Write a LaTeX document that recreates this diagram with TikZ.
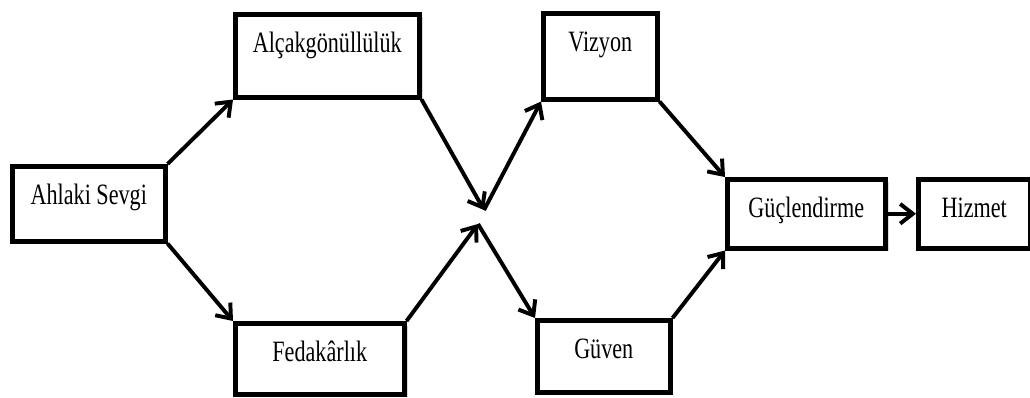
\documentclass[tikz,border=0pt]{standalone}
\usepackage{fontspec}
\setmainfont{Liberation Serif}[FakeStretch=0.75]
\usetikzlibrary{arrows.meta,shadows}
\begin{document}
\begin{tikzpicture}[x=0.025cm,y=-0.025cm,
  box/.style={draw, line width=3.2pt, fill=white, anchor=north west,
    inner xsep=0pt, inner ysep=0pt, text height=0.95cm,
    font=\fontsize{21}{25}\selectfont,
    drop shadow={shadow xshift=0.08cm, shadow yshift=-0.08cm, opacity=0.3}},
  arr/.style={line width=2.8pt, -{Straight Barb[length=9pt,width=14pt]}}]
  \useasboundingbox (0,0) rectangle (1030,397);
  \node[box, minimum width=3.825cm, text depth=0.925cm] (sevgi) at (10,164) {Ahlaki Sevgi};
  \node[box, minimum width=4.6cm, text depth=1.125cm] (alcak) at (233,12) {Alçakgönüllülük};
  \node[box, minimum width=4.225cm, text depth=0.825cm] (fedakar) at (233,321) {Fedakârlık};
  \node[box, minimum width=2.85cm, text depth=1.2cm] (vizyon) at (541,11) {Vizyon};
  \node[box, minimum width=3.325cm, text depth=0.85cm] (guven) at (535,318) {Güven};
  \node[box, minimum width=3.95cm, text depth=0.775cm] (guclen) at (725,177) {Güçlendirme};
  \node[box, minimum width=2.8cm, text depth=0.775cm] (hizmet) at (916,177) {Hizmet};
  \coordinate (kesisim1) at (484,210);
  \coordinate (kesisim2) at (478,224);
  \draw[arr] (sevgi.north east) -- (alcak.south west);
  \draw[arr] (sevgi.south east) -- (fedakar.north west);
  \draw[arr] (alcak.south east) -- (kesisim1);
  \draw[arr] (fedakar.north east) -- (kesisim2);
  \draw[arr] (kesisim1) -- (vizyon.south west);
  \draw[arr] (kesisim2) -- (guven.north west);
  \draw[arr] (vizyon.south east) -- (guclen.north west);
  \draw[arr] (guven.north east) -- (guclen.south west);
  \draw[arr] (guclen) -- (hizmet);
\end{tikzpicture}
\end{document}
